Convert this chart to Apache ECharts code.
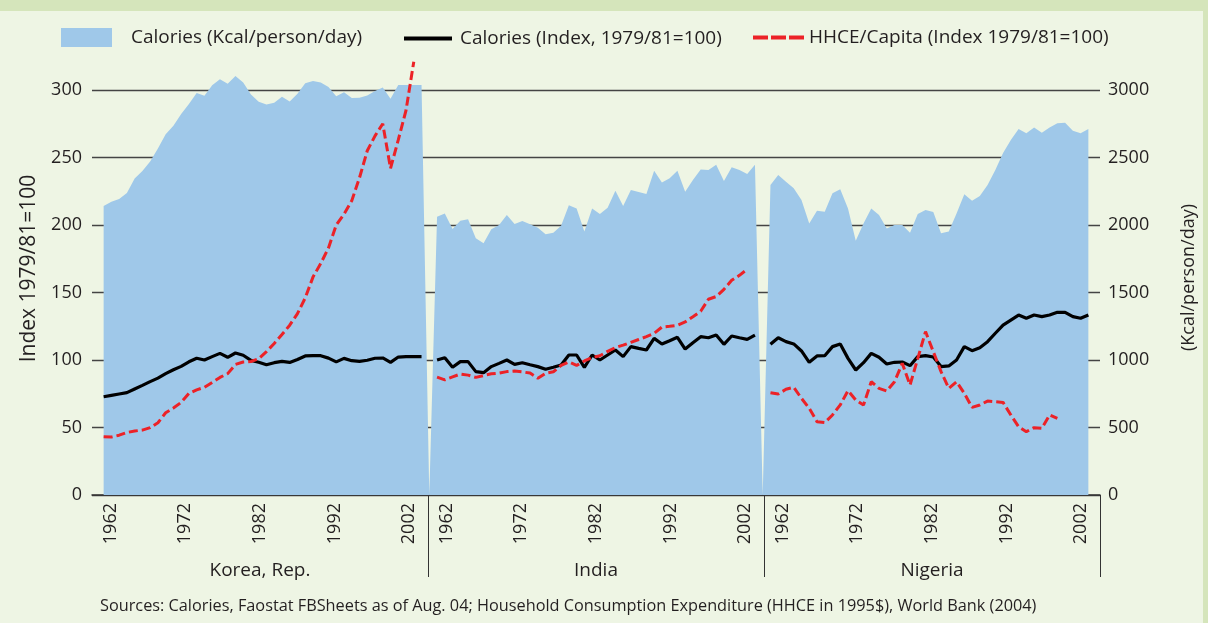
<!DOCTYPE html>
<html>
<head>
<meta charset="utf-8">
<script src="https://cdn.jsdelivr.net/npm/echarts@6/dist/echarts.min.js"></script>
<style>
  html, body { margin: 0; padding: 0; background: #eef5e4; }
  #chart { width: 1208px; height: 623px; }
  #band { position: absolute; left: 0; top: 0; width: 1208px; height: 11px; background: #d5e5bb; }
  #edge { position: absolute; right: 0; top: 0; width: 5px; height: 623px; background: #d5e5bb; }
</style>
</head>
<body>
<div id="chart"></div>
<div id="band"></div>
<div id="edge"></div>
<script>
// panels, 1961-2002 per country
var countries = ['Korea, Rep.', 'India', 'Nigeria'];
var firstYear = 1961;
var yearTicks = ['1962', '1972', '1982', '1992', '2002'];

// calories, kcal/person/day (right axis)
var koreaKcal = [2141,2172,2192,2237,2344,2400,2470,2567,2672,2735,2822,2897,2978,2958,3036,3079,3047,3103,3055,2967,2913,2892,2906,2950,2915,2973,3050,3066,3055,3022,2954,2984,2940,2943,2960,2993,3018,2935,3037,3037,3037,3037];
var indiaKcal = [2062,2086,1970,2032,2042,1901,1864,1968,2000,2074,2007,2030,2005,1980,1931,1943,1995,2146,2123,1951,2123,2081,2128,2254,2141,2259,2244,2230,2402,2314,2346,2402,2247,2333,2412,2407,2447,2326,2427,2407,2378,2447];
var nigeriaKcal = [2296,2370,2321,2272,2185,2012,2106,2099,2235,2264,2123,1884,2012,2123,2074,1975,2000,2000,1943,2081,2111,2096,1938,1951,2086,2227,2180,2215,2296,2407,2533,2630,2711,2679,2723,2684,2723,2753,2758,2699,2679,2711];

// calories index, 1979/81=100
var koreaIdx = [72.8,73.8,74.8,75.8,78.5,81.2,84,86.6,89.9,92.8,95.3,98.7,101.3,100,102.5,104.9,102,105.2,103.5,99.7,98.3,96.5,98,99,98.2,100.4,103,103.2,103.2,101.4,98.6,101.2,99.5,99,99.8,101.3,101.5,98.2,102.2,102.5,102.5,102.5];
var indiaIdx = [100,101.7,94.6,98.8,98.8,91.4,90.6,95.1,97.5,100,96.8,98,96.5,95.1,93.1,94.6,96.3,103.7,103.7,94.6,103.7,100,103.7,107.4,102.5,109.9,108.6,107.4,116,111.9,114.3,116.8,108.1,112.8,117.3,116.5,118.5,111.6,117.8,116.5,115.3,118.5];
var nigeriaIdx = [111.6,116.5,113.6,111.9,106.7,98.3,103,103.2,109.9,111.9,101.2,92.6,98,104.9,102,97,98.3,98.5,95.8,102.5,103.2,102.2,95.1,95.6,100,109.9,106.9,109.1,113.6,119.8,125.9,129.6,133.3,130.9,133.3,132.1,133.3,135.3,135.3,132.1,130.9,133.3];

// HHCE per capita index, 1979/81=100
var koreaHhce = [43.2,42.9,44.3,46.3,47.4,48.1,49.9,53.5,60.9,64.4,68.6,75.3,77.9,79.8,83.4,87.1,89.9,96.7,98.5,98.9,100.9,106.2,112.2,118.9,125.8,134.4,146,161.4,171.5,183,200,208,218,235,255,266,275,242,263,285,321];
var indiaHhce = [87.3,85.3,87.5,89.6,88.8,87.1,88.5,89.8,90.3,91.4,91.8,91.2,90.3,86.5,90.2,91.3,96,98.5,96,99.3,101.8,103.1,106.4,109.2,111,113.1,115.2,117.3,119.7,124.4,125,125.7,128.2,132.1,136.1,145,147,152.3,159,162.7,167.2];
var nigeriaHhce = [75.8,74.8,78.3,79.8,71.6,64.2,54.3,53.6,59.3,66.7,77.3,70.4,66.7,83.9,79,77,83.9,97.5,81.5,101.2,121,106.2,91.4,79,83.9,75.3,64.9,66.7,69.6,69.1,68.6,59.3,50.6,46.9,49.9,49.4,59.3,56.8];

var nameKcal = 'Calories (Kcal/person/day)';
var nameIdx = 'Calories (Index, 1979/81=100)';
var nameHhce = 'HHCE/Capita (Index 1979/81=100)';
var sourceText = 'Sources: Calories, Faostat FBSheets as of Aug. 04; Household Consumption Expenditure (HHCE in 1995$), World Bank (2004)';

var FONT = "'Open Sans', sans-serif";
var TXT = '#231f20';

var kcalByCountry = [koreaKcal, indiaKcal, nigeriaKcal];
var idxByCountry = [koreaIdx, indiaIdx, nigeriaIdx];
var hhceByCountry = [koreaHhce, indiaHhce, nigeriaHhce];

// series axis: pad, panel, separator, panel, separator, panel, pad
var dataCats = ['pad0'];
var kcal = [null], idx = [null], hhce = [null];
countries.forEach(function (c, ci) {
  if (ci > 0) {
    dataCats.push('sep' + ci);
    kcal.push(0); idx.push(null); hhce.push(null);
  }
  for (var i = 0; i < kcalByCountry[ci].length; i++) {
    dataCats.push(c + ' ' + (firstYear + i));
    kcal.push(kcalByCountry[ci][i]);
    idx.push(idxByCountry[ci][i]);
    hhce.push(i < hhceByCountry[ci].length ? hhceByCountry[ci][i] : null);
  }
});
dataCats.push('pad1'); kcal.push(null); idx.push(null); hhce.push(null);

// label axis: 45 year slots per panel (1960..2004)
var slotCats = [];
countries.forEach(function (c, ci) {
  for (var s = 0; s < 45; s++) slotCats.push(ci + ':' + (1960 + s));
});

var legendText = { fontFamily: FONT, fontSize: 19, color: TXT };

var chart = echarts.init(document.getElementById('chart'));
chart.setOption({
  animation: false,
  textStyle: { fontFamily: FONT, color: TXT },
  title: {
    text: sourceText, left: 100, top: 598, padding: 0,
    textStyle: { fontFamily: FONT, fontSize: 16.3, fontWeight: 'normal', color: TXT }
  },
  legend: [
    { data: [nameKcal], left: 61, top: 28, padding: 0, itemWidth: 51, itemHeight: 19, icon: 'rect',
      textStyle: Object.assign({ padding: [0, 0, 0, 14] }, legendText) },
    { data: [nameIdx], left: 404, top: 29, padding: 0, itemWidth: 48, itemHeight: 4, icon: 'rect',
      textStyle: Object.assign({ padding: [0, 0, 0, 3] }, legendText) },
    { data: [nameHhce], left: 753, top: 28, padding: 0, itemWidth: 51, itemHeight: 4,
      icon: 'path://M0,0H15V4H0Z M18,0H33V4H18Z M36,0H51V4H36Z',
      textStyle: legendText }
  ],
  grid: { left: 92, right: 108, top: 90, bottom: 128 },
  xAxis: [
    { type: 'category', data: dataCats, boundaryGap: true, position: 'bottom',
      axisLine: { lineStyle: { color: '#333', width: 1.5 } },
      axisTick: { show: false }, axisLabel: { show: false } },
    { type: 'category', data: slotCats, boundaryGap: true, position: 'bottom', offset: 0,
      axisLine: { show: false }, axisTick: { show: false },
      axisLabel: {
        interval: 0, rotate: 90, margin: 8, fontSize: 18, fontFamily: FONT, color: TXT,
        formatter: function (v) { var y = v.split(':')[1]; return yearTicks.indexOf(y) >= 0 ? y : ''; }
      } },
    { type: 'category', data: slotCats, boundaryGap: true, position: 'bottom', offset: 0,
      axisLine: { show: false },
      axisTick: { show: true, length: 82, lineStyle: { color: '#333', width: 1 },
        interval: function (i) { return i === 45 || i === 90; } },
      axisLabel: {
        interval: 0, margin: 66, fontSize: 19, fontFamily: FONT, color: TXT,
        formatter: function (v) { var p = v.split(':'); return p[1] === '1982' ? countries[+p[0]] : ''; }
      } }
  ],
  yAxis: [
    { type: 'value', min: 0, max: 300, interval: 50, position: 'left',
      name: 'Index 1979/81=100', nameLocation: 'middle', nameRotate: 90, nameGap: 52,
      nameTextStyle: { fontFamily: FONT, fontSize: 21, color: TXT, padding: [0, 0, 0, 48] },
      axisLine: { show: false }, axisTick: { show: false },
      axisLabel: { margin: 10, fontSize: 18, fontFamily: FONT, color: TXT },
      splitLine: { lineStyle: { color: '#444', width: 1.3 } } },
    { type: 'value', min: 0, max: 3000, interval: 500, position: 'right',
      name: '(Kcal/person/day)', nameLocation: 'middle', nameRotate: 90, nameGap: 80,
      nameTextStyle: { fontFamily: FONT, fontSize: 18, color: TXT, padding: [0, 0, 0, 30] },
      axisLine: { show: false }, axisTick: { show: false },
      axisLabel: { margin: 8, fontSize: 18, fontFamily: FONT, color: TXT,
        formatter: function (v) { return String(v); } },
      splitLine: { show: false } }
  ],
  series: [
    { name: nameKcal, type: 'line', xAxisIndex: 0, yAxisIndex: 1, data: kcal,
      symbol: 'none', clip: false, z: 1,
      lineStyle: { width: 0 }, itemStyle: { color: '#9fc8e9' },
      areaStyle: { color: '#9fc8e9', opacity: 1 } },
    { name: nameIdx, type: 'line', xAxisIndex: 0, yAxisIndex: 0, data: idx,
      symbol: 'none', clip: false, z: 3,
      lineStyle: { width: 3.2, color: '#000' }, itemStyle: { color: '#000' } },
    { name: nameHhce, type: 'line', xAxisIndex: 0, yAxisIndex: 0, data: hhce,
      symbol: 'none', clip: false, z: 4,
      lineStyle: { width: 3, color: '#ec2227', type: [9, 4] }, itemStyle: { color: '#ec2227' } }
  ]
});
</script>
</body>
</html>
